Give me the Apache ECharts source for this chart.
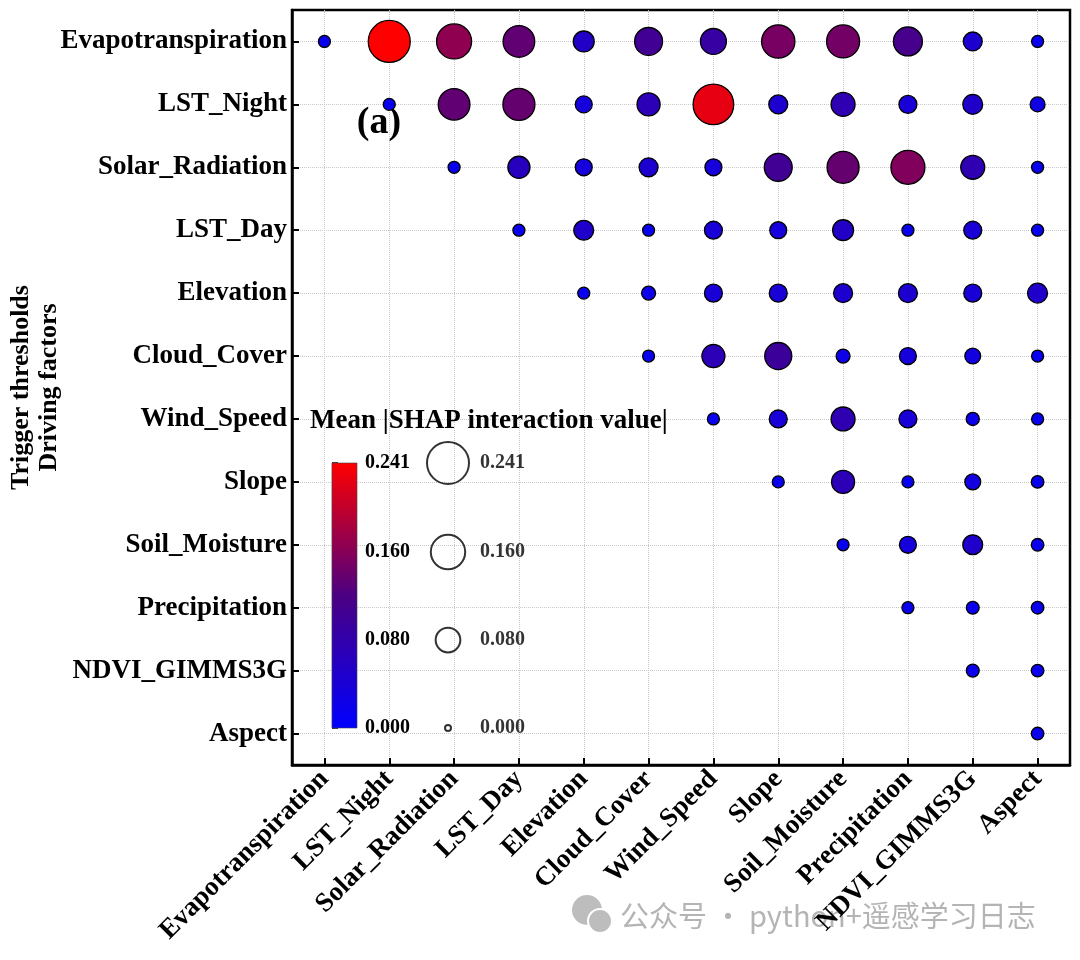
<!DOCTYPE html>
<html>
<head>
<meta charset="utf-8">
<script src="https://cdn.jsdelivr.net/npm/echarts@6/dist/echarts.min.js"></script>
<style>
html,body{margin:0;padding:0;background:#fff;}
#chart{width:1080px;height:960px;}
</style>
</head>
<body>
<div id="chart"></div>
<script>
// ---- data ----
const factors = ['Evapotranspiration','LST_Night','Solar_Radiation','LST_Day','Elevation','Cloud_Cover','Wind_Speed','Slope','Soil_Moisture','Precipitation','NDVI_GIMMS3G','Aspect'];
// each row lists values from the diagonal cell to the right edge
const rowEvapotranspiration = [0.015, 0.241, 0.166, 0.135, 0.056, 0.104, 0.089, 0.150, 0.147, 0.112, 0.045, 0.015];
const rowLSTNight          = [0.015, 0.135, 0.138, 0.035, 0.069, 0.225, 0.045, 0.075, 0.040, 0.050, 0.026];
const rowSolarRadiation    = [0.015, 0.063, 0.035, 0.045, 0.035, 0.104, 0.138, 0.156, 0.075, 0.015];
const rowLSTDay            = [0.015, 0.050, 0.015, 0.040, 0.035, 0.056, 0.015, 0.040, 0.015];
const rowElevation         = [0.015, 0.022, 0.040, 0.040, 0.045, 0.045, 0.040, 0.050];
const rowCloudCover        = [0.015, 0.069, 0.097, 0.022, 0.035, 0.030, 0.015];
const rowWindSpeed         = [0.015, 0.040, 0.075, 0.040, 0.019, 0.015];
const rowSlope             = [0.015, 0.069, 0.015, 0.030, 0.017];
const rowSoilMoisture      = [0.015, 0.035, 0.050, 0.017];
const rowPrecipitation     = [0.015, 0.018, 0.017];
const rowNDVI              = [0.018, 0.017];
const rowAspect            = [0.017];
const legendValues = [0.241, 0.160, 0.080, 0.000];
const colorbarTicks = [0, 0.08, 0.16, 0.241];
const valueMax = 0.241;
const colorStops = ['#0000ff', '#4b0082', '#ff0000'];

const rows = [rowEvapotranspiration,rowLSTNight,rowSolarRadiation,rowLSTDay,rowElevation,rowCloudCover,rowWindSpeed,rowSlope,rowSoilMoisture,rowPrecipitation,rowNDVI,rowAspect];
const bubbleData = [];
rows.forEach((r, i) => r.forEach((v, k) => bubbleData.push([factors[i + k], factors[i], v])));

function sizeOf(v){ return Math.sqrt(36 + 7170 * v); }

const FONT = "'Liberation Serif','Times New Roman',serif";
const chart = echarts.init(document.getElementById('chart'));
const labelStyle = {fontFamily: FONT, fontWeight: 'bold', fontSize: 27, color: '#000'};

chart.setOption({
  backgroundColor: '#fff',
  textStyle: {fontFamily: FONT},
  animation: false,
  grid: [
    {left: 292, top: 10, width: 778, height: 755, show: true, borderColor: '#000', borderWidth: 2.5, backgroundColor: 'transparent', outerBoundsMode: 'none', containLabel: false},
    {left: 332, top: 463, width: 25, height: 265, outerBoundsMode: 'none'},
    {left: 420, top: 463, width: 56, height: 265, outerBoundsMode: 'none'}
  ],
  xAxis: [
    {type: 'category', gridIndex: 0, data: factors, boundaryGap: true,
     axisLine: {lineStyle: {color: '#000', width: 2.5}},
     axisTick: {show: true, inside: true, alignWithLabel: true, length: 7, lineStyle: {color: '#000', width: 2}},
     axisLabel: Object.assign({rotate: 45, margin: 10, interval: 0}, labelStyle),
     splitLine: {show: true, alignWithLabel: true, lineStyle: {type: 'dotted', color: '#c8c8c8', width: 1}}},
    {type: 'value', gridIndex: 1, min: 0, max: 1, show: false},
    {type: 'value', gridIndex: 2, min: 0, max: 1, show: false}
  ],
  yAxis: [
    {type: 'category', gridIndex: 0, data: factors, inverse: true, boundaryGap: true,
     axisLine: {lineStyle: {color: '#000', width: 2.5}},
     axisTick: {show: true, inside: true, alignWithLabel: true, length: 7, lineStyle: {color: '#000', width: 2}},
     axisLabel: Object.assign({margin: 5, interval: 0}, labelStyle),
     splitLine: {show: true, alignWithLabel: true, lineStyle: {type: 'dotted', color: '#c8c8c8', width: 1}},
     name: 'Trigger thresholds\nDriving factors', nameLocation: 'middle', nameRotate: 90, nameGap: 229,
     nameMoveOverlap: false,
     nameTextStyle: Object.assign({lineHeight: 28}, labelStyle, {fontSize: 26})},
    {type: 'value', gridIndex: 1, min: 0, max: valueMax, position: 'right',
     axisLine: {show: true, lineStyle: {color: '#000', width: 1.2}},
     axisTick: {show: true, length: 6, customValues: colorbarTicks, lineStyle: {color: '#000', width: 1.5}},
     axisLabel: {customValues: colorbarTicks, formatter: v => Number(v).toFixed(3), margin: 8,
       fontFamily: FONT, fontWeight: 'bold', fontSize: 20, color: '#000'},
     splitLine: {show: false}},
    {type: 'value', gridIndex: 2, min: 0, max: valueMax, show: false}
  ],
  visualMap: {
    show: false, type: 'continuous', min: 0, max: valueMax, dimension: 2, seriesIndex: 0,
    inRange: {color: colorStops}
  },
  series: [
    {type: 'scatter', xAxisIndex: 0, yAxisIndex: 0, data: bubbleData,
     symbolSize: val => sizeOf(val[2]),
     itemStyle: {borderColor: '#000', borderWidth: 1.3, opacity: 1}, z: 3},
    {type: 'custom', xAxisIndex: 1, yAxisIndex: 1, data: [[0, 0]], z: 4,
     renderItem: (params, api) => {
       const p0 = api.coord([0, 0]);
       const p1 = api.coord([1, valueMax]);
       return {type: 'rect', shape: {x: p0[0], y: p1[1], width: p1[0] - p0[0], height: p0[1] - p1[1]},
         style: {fill: new echarts.graphic.LinearGradient(0, 1, 0, 0, colorStops.map((c, i) => ({offset: i / (colorStops.length - 1), color: c}))),
                 stroke: '#444', lineWidth: 0.6}};
     }},
    {type: 'scatter', xAxisIndex: 2, yAxisIndex: 2, z: 4,
     data: legendValues.map(v => [0.5, v]),
     symbolSize: val => sizeOf(val[1]),
     itemStyle: {color: 'rgba(255,255,255,0)', borderColor: '#000', borderWidth: 2},
     label: {show: true, position: 'inside', align: 'left', offset: [32, 0],
       formatter: p => p.value[1].toFixed(3), fontFamily: FONT, fontWeight: 'bold', fontSize: 20, color: '#000'}}
  ],
  graphic: [
    {type: 'text', x: 379, y: 123, z: 2, style: {text: '(a)', fontFamily: FONT, fontWeight: 'bold', fontSize: 38, fill: '#000', align: 'center', verticalAlign: 'middle'}},
    {type: 'text', x: 310, y: 421, z: 5, style: {text: 'Mean |SHAP interaction value|', fontFamily: FONT, fontWeight: 'bold', fontSize: 27, fill: '#000', align: 'left', verticalAlign: 'middle'}},
    {type: 'circle', shape: {cx: 587, cy: 910, r: 15}, style: {fill: '#bdbdbd'}, z: 0},
    {type: 'circle', shape: {cx: 600, cy: 921, r: 12}, style: {fill: '#bdbdbd', stroke: '#fff', lineWidth: 2}, z: 0},
    {type: 'text', x: 620, y: 916, z: 0, style: {text: '公众号 · python+遥感学习日志', fontFamily: "'Noto Sans CJK SC','Noto Sans',sans-serif", fontSize: 29, fill: '#b4b4b4', align: 'left', verticalAlign: 'middle'}}
  ]
});
</script>
</body>
</html>
